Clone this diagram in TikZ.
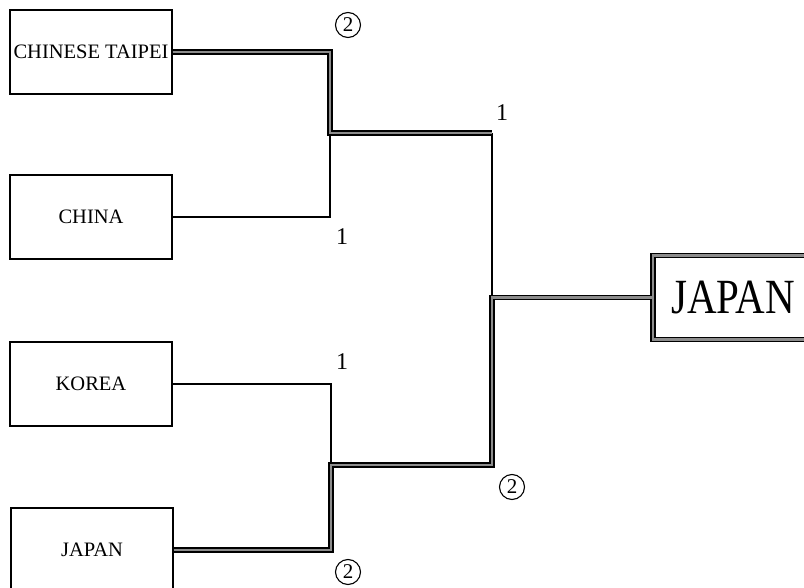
\documentclass[tikz,border=0pt]{standalone}
\usepackage{fontspec}
\setmainfont{Liberation Serif}
\usepackage{tikz}
\usetikzlibrary{positioning, shapes.geometric}
\definecolor{wingray}{HTML}{8C8C8C}

\begin{document}
\begin{tikzpicture}[
    x=1pt, y=-1pt,
    every node/.style={font=\fontsize{20.5}{22}\selectfont},
    teambox/.style={rectangle, draw=black, line width=1.3pt, minimum width=162pt, minimum height=84pt, inner sep=0pt},
    champbox/.style={rectangle, draw=black, line width=1.4pt, double=wingray, double distance=2.6pt, minimum width=160pt, minimum height=84pt, inner sep=0pt, font=\fontsize{41}{44}\selectfont},
    win/.style={line width=1.4pt, double=wingray, double distance=2.8pt},
    lose/.style={line width=1.5pt, color=black},
    seed/.style={circle, draw=black, line width=1.1pt, minimum size=25pt, inner sep=0pt, font=\fontsize{21}{22}\selectfont},
    score/.style={inner sep=0pt, font=\fontsize{24}{26}\selectfont}
]
\useasboundingbox (0,0) rectangle (804,588);
\clip (0,0) rectangle (804,588);

% Teams
\node[teambox] (ct)    at (91,52)  {CHINESE TAIPEI};
\node[teambox] (china) at (91,217) {CHINA};
\node[teambox] (korea) at (91,384) {KOREA};
\node[teambox] (jpn)   at (92,550) {JAPAN};
\node[champbox] (champ) at (733,297.5) {\scalebox{1}[1.2]{JAPAN}};

% Joints
\coordinate (s1) at (330,133);
\coordinate (s2) at (331,465);
\coordinate (f1) at (492,133);
\coordinate (f2) at (492,465);
\coordinate (fm) at (492,298);

% Losing lines
\draw[lose] (china.east) -| (s1);
\draw[lose] (korea.east) -| (s2);
\draw[lose] (f1) -- (fm);

% Winning lines
\draw[win] (ct.east) -| (s1) -- (f1);
\draw[win] (jpn.east) -| (s2) -- (f2) |- (champ.west);

% Scores
\node[seed]  (ct-sc)    at (348,25)  {2};
\node[score] (china-sc) at (342,237) {1};
\node[score] (korea-sc) at (342,362) {1};
\node[seed]  (jpn-sc)   at (348,572) {2};
\node[score] (s1-sc)    at (502,113) {1};
\node[seed]  (s2-sc)    at (512,487) {2};

\end{tikzpicture}
\end{document}
